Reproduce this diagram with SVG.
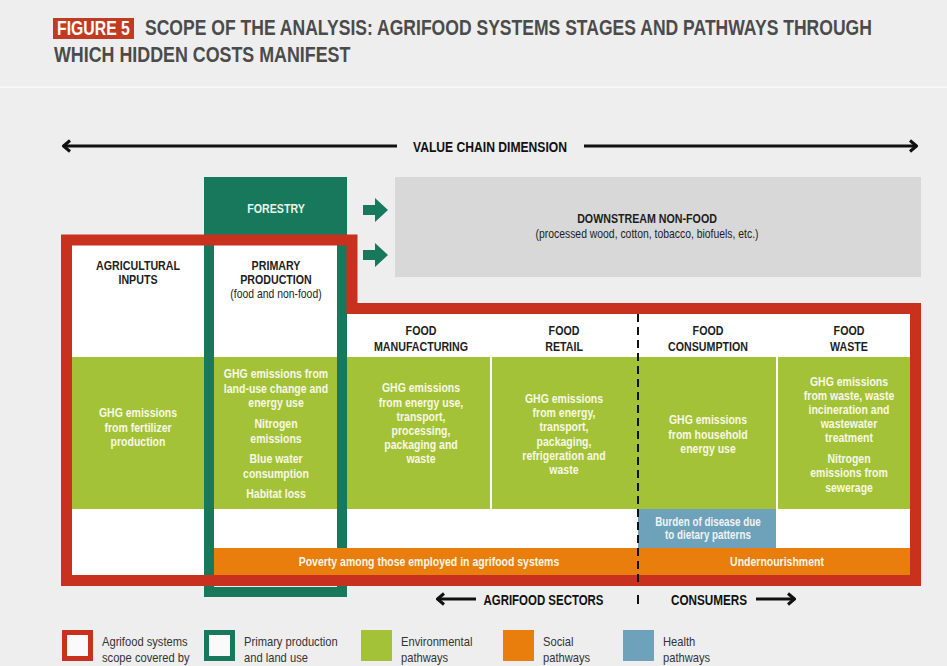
<svg xmlns="http://www.w3.org/2000/svg" width="947" height="666" viewBox="0 0 947 666">
  <defs>
    <style>
      text { font-family: "Liberation Sans", Arial, sans-serif; }
      .hd, .sub, .env, .hw, .lg, .fr, .ttl { transform-box: fill-box; transform-origin: center; }
      .hd { font-size: 13.5px; font-weight: 700; fill: #1d1d1d; text-anchor: middle; transform: scaleX(.79); }
      .fr { font-size: 13.5px; font-weight: 700; fill: #e9f3ee; text-anchor: middle; transform: scaleX(.79); }
      .sub { font-size: 13px; font-weight: 400; fill: #1d1d1d; text-anchor: middle; transform: scaleX(.8); }
      .env { font-size: 12.5px; font-weight: 700; fill: #f8f8e6; text-anchor: middle; transform: scaleX(.84); }
      .hw { font-size: 12px; font-weight: 700; fill: #eef4f7; text-anchor: middle; transform: scaleX(.82); }
      .lg { font-size: 13px; font-weight: 400; fill: #333; transform-origin: left center; transform: scaleX(.86); }
      .ttl { font-size: 22px; font-weight: 700; fill: #4b4b4b; transform-origin: left center; }
      .axis { font-size: 14.5px; font-weight: 700; fill: #111; text-anchor: middle; }
      .ln { stroke: #111; stroke-width: 3; fill: none; }
      .cell { fill: #a4c238; }
    </style>
    <marker id="chev" viewBox="0 0 10 14" refX="9" refY="7" markerWidth="10" markerHeight="14" markerUnits="userSpaceOnUse" orient="auto-start-reverse">
      <path d="M2,1.5 L8.5,7 L2,12.5" fill="none" stroke="#111" stroke-width="3"/>
    </marker>
    <path id="blk" d="M0,-5 H12 V-12 L25,0 L12,12 V5 H0 Z"/>
  </defs>

  <!-- page -->
  <rect width="947" height="666" fill="#eeeeee"/>
  <rect y="86.5" width="947" height="1.5" fill="#f9f9f9"/>

  <!-- heading -->
  <g id="title">
    <rect x="53" y="18" width="81" height="21" fill="#c23a22"/>
    <text class="ttl" x="57" y="35" style="font-size:20px;fill:#ffffff;transform:scaleX(.79)">FIGURE 5</text>
    <text class="ttl" x="145" y="35.5" style="transform:scaleX(.798)">SCOPE OF THE ANALYSIS: AGRIFOOD SYSTEMS STAGES AND PATHWAYS THROUGH</text>
    <text class="ttl" x="54" y="62" style="transform:scaleX(.812)">WHICH HIDDEN COSTS MANIFEST</text>
  </g>

  <!-- non-food branch -->
  <g id="downstream">
    <rect x="395" y="177" width="526" height="100" fill="#d8d8d8"/>
    <text class="hd" x="647" y="223">DOWNSTREAM NON-FOOD</text>
    <text class="sub" x="647" y="238">(processed wood, cotton, tobacco, biofuels, etc.)</text>
  </g>

  <!-- white stage canvas -->
  <path id="canvas" d="M67,240 H352 V308 H915 V580 H67 Z" fill="#ffffff"/>

  <!-- primary production and land use frame with forestry on top -->
  <g id="forestry">
    <rect x="204" y="177" width="143" height="62" fill="#17785b"/>
    <rect x="209" y="182" width="133" height="410" fill="none" stroke="#17785b" stroke-width="10"/>
    <text class="fr" x="276" y="213">FORESTRY</text>
  </g>

  <g id="agricultural-inputs">
    <text class="hd" x="138" y="270">AGRICULTURAL</text>
    <text class="hd" x="138" y="284">INPUTS</text>
    <rect class="cell" x="72" y="357" width="132" height="152"/>
    <text class="env" x="138" y="417.5">GHG emissions</text>
    <text class="env" x="138" y="432">from fertilizer</text>
    <text class="env" x="138" y="446">production</text>
  </g>

  <g id="primary-production">
    <text class="hd" x="276" y="270">PRIMARY</text>
    <text class="hd" x="276" y="284">PRODUCTION</text>
    <text class="sub" x="276" y="298">(food and non-food)</text>
    <rect class="cell" x="214" y="357" width="123" height="152"/>
    <text class="env" x="276" y="378.5">GHG emissions from</text>
    <text class="env" x="276" y="393">land-use change and</text>
    <text class="env" x="276" y="407">energy use</text>
    <text class="env" x="276" y="428.5">Nitrogen</text>
    <text class="env" x="276" y="443">emissions</text>
    <text class="env" x="276" y="463.5">Blue water</text>
    <text class="env" x="276" y="478">consumption</text>
    <text class="env" x="276" y="498.5">Habitat loss</text>
  </g>

  <g id="food-manufacturing">
    <text class="hd" x="421" y="335">FOOD</text>
    <text class="hd" x="421" y="351">MANUFACTURING</text>
    <rect class="cell" x="347" y="357" width="143" height="152"/>
    <text class="env" x="421" y="392.5">GHG emissions</text>
    <text class="env" x="421" y="407">from energy use,</text>
    <text class="env" x="421" y="421.5">transport,</text>
    <text class="env" x="421" y="435.5">processing,</text>
    <text class="env" x="421" y="449.5">packaging and</text>
    <text class="env" x="421" y="463">waste</text>
  </g>

  <g id="food-retail">
    <text class="hd" x="564" y="335">FOOD</text>
    <text class="hd" x="564" y="351">RETAIL</text>
    <rect class="cell" x="492" y="357" width="146" height="152"/>
    <text class="env" x="564" y="403.5">GHG emissions</text>
    <text class="env" x="564" y="417.5">from energy,</text>
    <text class="env" x="564" y="431.5">transport,</text>
    <text class="env" x="564" y="446">packaging,</text>
    <text class="env" x="564" y="460.5">refrigeration and</text>
    <text class="env" x="564" y="474.5">waste</text>
  </g>

  <g id="food-consumption">
    <text class="hd" x="708" y="335">FOOD</text>
    <text class="hd" x="708" y="351">CONSUMPTION</text>
    <rect class="cell" x="638" y="357" width="138" height="152"/>
    <text class="env" x="708" y="424.5">GHG emissions</text>
    <text class="env" x="708" y="439">from household</text>
    <text class="env" x="708" y="453">energy use</text>
    <rect x="638" y="509" width="138" height="39" fill="#6ea2bb"/>
    <text class="hw" x="708" y="526">Burden of disease due</text>
    <text class="hw" x="708" y="539">to dietary patterns</text>
  </g>

  <g id="food-waste">
    <text class="hd" x="849" y="335">FOOD</text>
    <text class="hd" x="849" y="351">WASTE</text>
    <rect class="cell" x="778" y="357" width="132" height="152"/>
    <text class="env" x="849" y="386">GHG emissions</text>
    <text class="env" x="849" y="400.5">from waste, waste</text>
    <text class="env" x="849" y="414.5">incineration and</text>
    <text class="env" x="849" y="428.5">wastewater</text>
    <text class="env" x="849" y="442.5">treatment</text>
    <text class="env" x="849" y="463.5">Nitrogen</text>
    <text class="env" x="849" y="477.5">emissions from</text>
    <text class="env" x="849" y="492">sewerage</text>
  </g>

  <g id="social-pathways">
    <rect x="214" y="548" width="696" height="27" fill="#e97e0c"/>
    <text class="env" x="429" y="566">Poverty among those employed in agrifood systems</text>
    <text class="env" x="777" y="566">Undernourishment</text>
  </g>

  <!-- agrifood systems scope outline -->
  <path id="scope" d="M66.5,240 H352 V308.5 H915.5 V580.5 H66.5 Z" fill="none" stroke="#c9311f" stroke-width="11"/>

  <g id="connectors">
    <line class="ln" x1="63" y1="146" x2="397" y2="146" marker-start="url(#chev)"/>
    <line class="ln" x1="584" y1="146" x2="917" y2="146" marker-end="url(#chev)"/>
    <text class="axis" x="490" y="152" textLength="154" lengthAdjust="spacingAndGlyphs">VALUE CHAIN DIMENSION</text>
    <use href="#blk" x="363" y="210" fill="#17785b"/>
    <use href="#blk" x="363" y="255" fill="#17785b"/>
    <line x1="638" y1="314" x2="638" y2="586" stroke="#111" stroke-width="2" stroke-dasharray="8 5"/>
    <line x1="638" y1="595" x2="638" y2="604" stroke="#111" stroke-width="2"/>
    <line class="ln" x1="437" y1="599" x2="476" y2="599" marker-start="url(#chev)"/>
    <text class="axis" x="543.5" y="605" textLength="120" lengthAdjust="spacingAndGlyphs">AGRIFOOD SECTORS</text>
    <text class="axis" x="709" y="605" textLength="76" lengthAdjust="spacingAndGlyphs">CONSUMERS</text>
    <line class="ln" x1="756" y1="599" x2="795" y2="599" marker-end="url(#chev)"/>
  </g>

  <g id="legend">
    <rect x="64.5" y="632.5" width="26" height="26" fill="#fafafa" stroke="#c9311f" stroke-width="5"/>
    <text class="lg" x="102" y="646">Agrifood systems</text>
    <text class="lg" x="102" y="662">scope covered by</text>
    <rect x="206.5" y="632.5" width="26" height="26" fill="#fafafa" stroke="#17785b" stroke-width="5"/>
    <text class="lg" x="244" y="646">Primary production</text>
    <text class="lg" x="244" y="662">and land use</text>
    <rect x="361" y="630" width="31" height="31" fill="#a4c238"/>
    <text class="lg" x="401" y="646">Environmental</text>
    <text class="lg" x="401" y="662">pathways</text>
    <rect x="503" y="630" width="31" height="31" fill="#e97e0c"/>
    <text class="lg" x="543" y="646">Social</text>
    <text class="lg" x="543" y="662">pathways</text>
    <rect x="623" y="630" width="31" height="31" fill="#6ea2bb"/>
    <text class="lg" x="663" y="646">Health</text>
    <text class="lg" x="663" y="662">pathways</text>
  </g>
</svg>
